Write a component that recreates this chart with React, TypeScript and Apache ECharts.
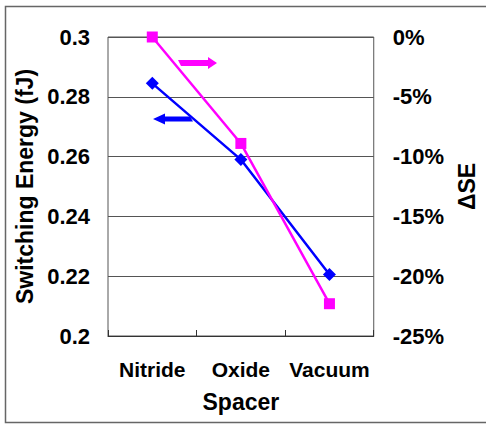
import React, { useEffect, useRef } from "react";
import * as echarts from "echarts";

const categories = ["Nitride", "Oxide", "Vacuum"];
const switchingEnergy = [0.2845, 0.259, 0.2206];
const deltaSE = [0, -8.9, -22.3];

const FONT = "'Liberation Sans', Arial, sans-serif";

export default function App() {
  const ref = useRef<HTMLDivElement>(null);
  useEffect(() => {
    document.body.style.margin = "0";
    const chart = echarts.init(ref.current!, null, { renderer: "svg" });
    chart.setOption({
      animation: false,
      backgroundColor: "#ffffff",
      textStyle: { fontFamily: FONT },
      grid: { left: 108, right: 107, top: 37, bottom: 90, show: true, borderColor: "#555", borderWidth: 1 },
      xAxis: {
        type: "category",
        data: categories,
        boundaryGap: true,
        name: "Spacer",
        nameLocation: "middle",
        nameGap: 54,
        nameTextStyle: { fontSize: 23, fontWeight: "bold", color: "#000", fontFamily: FONT },
        axisLine: { onZero: false, lineStyle: { color: "#333", width: 1 } },
        axisTick: { show: true, inside: true, length: 6, lineStyle: { color: "#333" } },
        axisLabel: { interval: 0, margin: 23, fontSize: 21, fontWeight: "bold", color: "#000", fontFamily: FONT },
      },
      yAxis: [
        {
          type: "value",
          min: 0.2,
          max: 0.3,
          interval: 0.02,
          name: "Switching Energy (fJ)",
          nameLocation: "middle",
          nameGap: 71,
          nameTextStyle: { fontSize: 23, fontWeight: "bold", color: "#000", fontFamily: FONT },
          axisLine: { show: false },
          axisTick: { show: false },
          axisLabel: { margin: 18, fontSize: 22, fontWeight: "bold", color: "#000", fontFamily: FONT },
          splitLine: { show: true, lineStyle: { color: "#555", width: 1 } },
        },
        {
          type: "value",
          min: -25,
          max: 0,
          interval: 5,
          position: "right",
          name: "ΔSE",
          nameLocation: "middle",
          nameGap: 78,
          nameTextStyle: { fontSize: 23, fontWeight: "bold", color: "#000", fontFamily: FONT },
          axisLine: { show: false },
          axisTick: { show: false },
          axisLabel: { margin: 19, fontSize: 22, fontWeight: "bold", color: "#000", fontFamily: FONT, formatter: "{value}%" },
          splitLine: { show: false },
        },
      ],
      series: [
        {
          type: "line",
          name: "Switching Energy",
          data: switchingEnergy,
          yAxisIndex: 0,
          symbol: "diamond",
          symbolSize: 13,
          lineStyle: { color: "#0000ff", width: 2.5 },
          itemStyle: { color: "#0000ff" },
        },
        {
          type: "line",
          name: "ΔSE",
          data: deltaSE,
          yAxisIndex: 1,
          symbol: "rect",
          symbolSize: 11,
          lineStyle: { color: "#ff00ff", width: 2.5 },
          itemStyle: { color: "#ff00ff" },
        },
      ],
      graphic: [
        {
          type: "rect",
          shape: { x: 5.5, y: 6.5, width: 500, height: 416 },
          style: { fill: "none", stroke: "#666", lineWidth: 1.5 },
          silent: true,
        },
        {
          type: "polygon",
          shape: {
            points: [[178, 60], [208, 60], [208, 57], [217, 63], [208, 69], [208, 66], [181, 66]],
          },
          style: { fill: "#ff00ff" },
          silent: true,
        },
        {
          type: "polygon",
          shape: {
            points: [[153, 119], [165, 113.5], [165, 116.5], [190, 116.5], [193, 121.5], [165, 121.5], [165, 124.5]],
          },
          style: { fill: "#0000ff" },
          silent: true,
        },
      ],
    });
    return () => chart.dispose();
  }, []);
  return <div ref={ref} style={{ width: 486, height: 426 }} />;
}
